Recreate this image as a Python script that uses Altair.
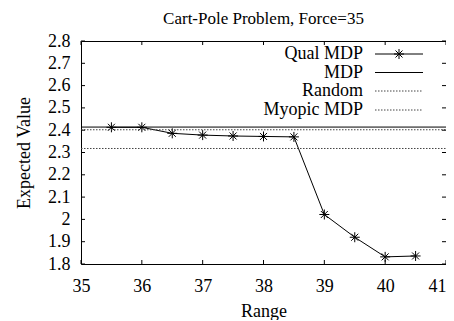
import altair as alt
import pandas as pd

# ---- data ----
ranges = [35.5, 36, 36.5, 37, 37.5, 38, 38.5, 39, 39.5, 40, 40.5]
qual_mdp = [2.413, 2.413, 2.386, 2.378, 2.374, 2.372, 2.370, 2.022, 1.920, 1.832, 1.836]
mdp_value = 2.414
random_value = 2.318
myopic_value = 2.402
x_ticks = [35, 36, 37, 38, 39, 40, 41]
y_ticks = [1.8, 1.9, 2.0, 2.1, 2.2, 2.3, 2.4, 2.5, 2.6, 2.7, 2.8]
legend_labels = ["Qual MDP", "MDP", "Random", "Myopic MDP"]

W, H = 365, 223
FONT = "Times New Roman, Liberation Serif, Times, serif"
FS = 18

xs = alt.Scale(domain=[35, 41], nice=False, zero=False)
ys = alt.Scale(domain=[1.8, 2.8], nice=False, zero=False)

df = pd.DataFrame({"range": ranges, "value": qual_mdp})
dxt = pd.DataFrame({"t": x_ticks})
dyt = pd.DataFrame({"t": y_ticks})

ax_style = dict(ticks=False, domain=False, grid=False, labelFont=FONT, labelFontSize=FS,
                titleFont=FONT, titleFontSize=FS, titleFontWeight="normal",
                labelColor="black", titleColor="black", labelOverlap=False, labelFlush=False,
                format="~g")
xaxis = alt.Axis(values=x_ticks, labelPadding=13, titlePadding=7,
                 labelAlign={"condition": {"test": "datum.value == 41", "value": "right"},
                             "value": "center"},
                 **ax_style)
yaxis = alt.Axis(values=y_ticks, labelPadding=11, titlePadding=14, **ax_style)

line = alt.Chart(df).mark_line(color="black", strokeWidth=1).encode(
    x=alt.X("range:Q", scale=xs, axis=xaxis, title="Range"),
    y=alt.Y("value:Q", scale=ys, axis=yaxis, title="Expected Value"),
)

star = "M-1,0L1,0M0,-1L0,1M-0.7,-0.7L0.7,0.7M-0.7,0.7L0.7,-0.7"
pts = alt.Chart(df).mark_point(shape=star, filled=False, color="black", size=100,
                                strokeWidth=1, opacity=1).encode(
    x=alt.X("range:Q", scale=xs, axis=xaxis, title="Range"),
    y=alt.Y("value:Q", scale=ys, axis=yaxis, title="Expected Value"))

def hline(v, dash, color):
    kw = dict(color=color, strokeWidth=1)
    if dash:
        kw["strokeDash"] = dash
    return alt.Chart(pd.DataFrame({"v": [v]})).mark_rule(**kw).encode(
        y=alt.Y("v:Q", scale=ys, axis=yaxis, title="Expected Value"),
        x=alt.value(0), x2=alt.value(W))

h_mdp = hline(mdp_value, None, "black")
h_rand = hline(random_value, [1.5, 1.5], "#444")
h_myo = hline(myopic_value, [1.5, 1.5], "#444")

TL = 4
tick_layers = [
    alt.Chart(dxt).mark_rule(color="black").encode(
        x=alt.X("t:Q", scale=xs, axis=xaxis, title="Range"), y=alt.value(H), y2=alt.value(H - TL)),
    alt.Chart(dxt).mark_rule(color="black").encode(
        x=alt.X("t:Q", scale=xs, axis=xaxis, title="Range"), y=alt.value(0), y2=alt.value(TL)),
    alt.Chart(dyt).mark_rule(color="black").encode(
        y=alt.Y("t:Q", scale=ys, axis=yaxis, title="Expected Value"), x=alt.value(0), x2=alt.value(TL)),
    alt.Chart(dyt).mark_rule(color="black").encode(
        y=alt.Y("t:Q", scale=ys, axis=yaxis, title="Expected Value"), x=alt.value(W), x2=alt.value(W - TL)),
]

# legend (gnuplot style: label then sample)
rows = [13, 31.5, 50, 69]
styles = [(None, "black"), (None, "black"), ([1.5, 1.5], "#444"), ([1.5, 1.5], "#444")]
leg = []
ldf = pd.DataFrame({"label": legend_labels})
for i, lab in enumerate(legend_labels):
    sub = ldf[ldf.label == lab]
    leg.append(alt.Chart(sub).mark_text(align="right", baseline="middle", font=FONT, fontSize=FS,
                                        color="black").encode(
        text="label:N", x=alt.value(282), y=alt.value(rows[i])))
    dash, col = styles[i]
    kw = dict(color=col, strokeWidth=1)
    if dash:
        kw["strokeDash"] = dash
    leg.append(alt.Chart(sub).mark_rule(**kw).encode(
        x=alt.value(294), x2=alt.value(342), y=alt.value(rows[i])))
leg.append(alt.Chart(ldf[ldf.label == "Qual MDP"]).mark_point(
    shape=star, filled=False, color="black", size=100, strokeWidth=1, opacity=1).encode(
    x=alt.value(318), y=alt.value(rows[0])))

chart = alt.layer(line, pts, h_mdp, h_rand, h_myo, *tick_layers, *leg).properties(
    width=W, height=H,
    title=alt.TitleParams("Cart-Pole Problem, Force=35", font=FONT, fontSize=17,
                          fontWeight="normal", color="black", offset=4),
    autosize=alt.AutoSizeParams(type="none"),
    padding={"left": 73, "top": 33, "right": 0, "bottom": 56},
).configure(background="white").configure_view(stroke="black", strokeWidth=1)

chart.save("out.html", embed_options={"renderer": "svg", "actions": False})
